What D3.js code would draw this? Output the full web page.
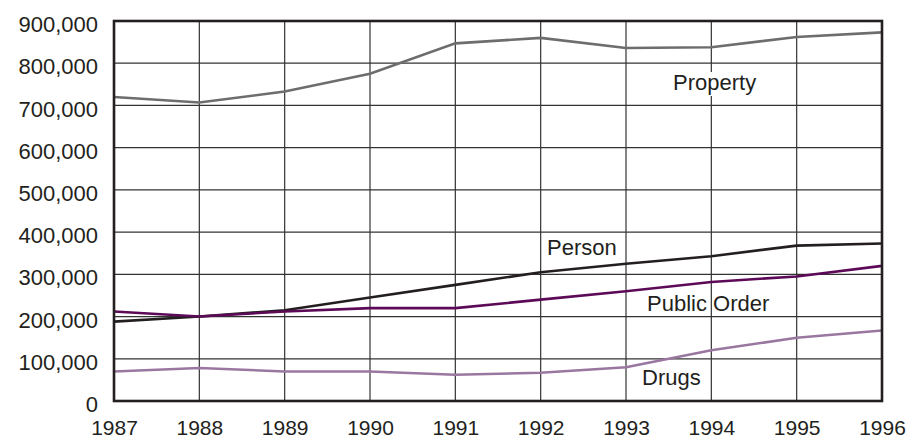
<!DOCTYPE html>
<html>
<head>
<meta charset="utf-8">
<script src="https://cdn.jsdelivr.net/npm/d3@7"></script>
<style>
  body { margin: 0; background: #fff; }
  text { font-family: "Liberation Sans", Arial, sans-serif; fill: #231f20; }
</style>
</head>
<body>
<svg id="chart" width="923" height="440"></svg>
<script>
var years = [1987, 1988, 1989, 1990, 1991, 1992, 1993, 1994, 1995, 1996];
var property = [720000, 707000, 733000, 775000, 847000, 860000, 836000, 838000, 862000, 873000];
var person = [188000, 200000, 215000, 245000, 275000, 305000, 325000, 343000, 368000, 373000];
var publicOrder = [212000, 200000, 212000, 220000, 220000, 240000, 260000, 282000, 295000, 320000];
var drugs = [70000, 78000, 70000, 70000, 62000, 67000, 80000, 120000, 150000, 167000];
var yTicks = [0, 100000, 200000, 300000, 400000, 500000, 600000, 700000, 800000, 900000];

var series = [
  {name: "Property", values: property, color: "#6d6d70", label: [673, 90], bg: true},
  {name: "Person", values: person, color: "#231f20", label: [547, 255], bg: false},
  {name: "Public Order", values: publicOrder, color: "#5c0a57", label: [647, 311], bg: false},
  {name: "Drugs", values: drugs, color: "#9a77a0", label: [642, 385], bg: false}
];

var margin = {top: 21, right: 41, bottom: 39, left: 114},
    width = 923 - margin.left - margin.right,
    height = 440 - margin.top - margin.bottom;

var svg = d3.select("#chart");
var g = svg.append("g")
    .attr("transform", "translate(" + margin.left + "," + margin.top + ")");

var x = d3.scaleLinear().domain([1987, 1996]).range([0, width]);
var y = d3.scaleLinear().domain([0, 900000]).range([height, 0]);

// grid
g.append("g")
    .selectAll("line.h")
    .data(yTicks)
    .enter().append("line")
    .attr("x1", 0).attr("x2", width)
    .attr("y1", function(d) { return y(d); })
    .attr("y2", function(d) { return y(d); })
    .attr("stroke", "#333")
    .attr("stroke-width", 1.2);

g.append("g")
    .selectAll("line.v")
    .data(years)
    .enter().append("line")
    .attr("y1", 0).attr("y2", height)
    .attr("x1", function(d) { return x(d); })
    .attr("x2", function(d) { return x(d); })
    .attr("stroke", "#333")
    .attr("stroke-width", 1.2);

// axes (labels only)
var yAxis = d3.axisLeft(y)
    .tickValues(yTicks)
    .tickSize(0)
    .tickPadding(16)
    .tickFormat(d3.format(","));
var yg = g.append("g").call(yAxis);
yg.select(".domain").remove();
yg.selectAll("text")
    .attr("font-size", "22px")
    .attr("dy", "0.48em")
    .attr("fill", "#231f20");

var xAxis = d3.axisBottom(x)
    .tickValues(years)
    .tickSize(0)
    .tickPadding(19)
    .tickFormat(d3.format("d"));
var xg = g.append("g").attr("transform", "translate(0," + height + ")").call(xAxis);
xg.select(".domain").remove();
xg.selectAll("text").attr("font-size", "21px").attr("fill", "#231f20");

var line = d3.line()
    .x(function(d, i) { return x(years[i]); })
    .y(function(d) { return y(d); });

g.selectAll("path.series")
    .data(series)
    .enter().append("path")
    .attr("class", "series")
    .attr("fill", "none")
    .attr("stroke", function(d) { return d.color; })
    .attr("stroke-width", 2.6)
    .attr("d", function(d) { return line(d.values); });

// frame
g.append("rect")
    .attr("width", width).attr("height", height)
    .attr("fill", "none")
    .attr("stroke", "#231f20")
    .attr("stroke-width", 2.6);

// series labels
series.forEach(function(s) {
  var t = svg.append("text")
      .attr("x", s.label[0])
      .attr("y", s.label[1])
      .attr("font-size", "22px")
      .text(s.name);
  if (s.bg) {
    var b = t.node().getBBox();
    svg.insert("rect", function() { return t.node(); })
        .attr("x", b.x - 2).attr("y", b.y + 2)
        .attr("width", b.width + 4).attr("height", b.height - 1)
        .attr("fill", "#fff");
  }
});
</script>
</body>
</html>
